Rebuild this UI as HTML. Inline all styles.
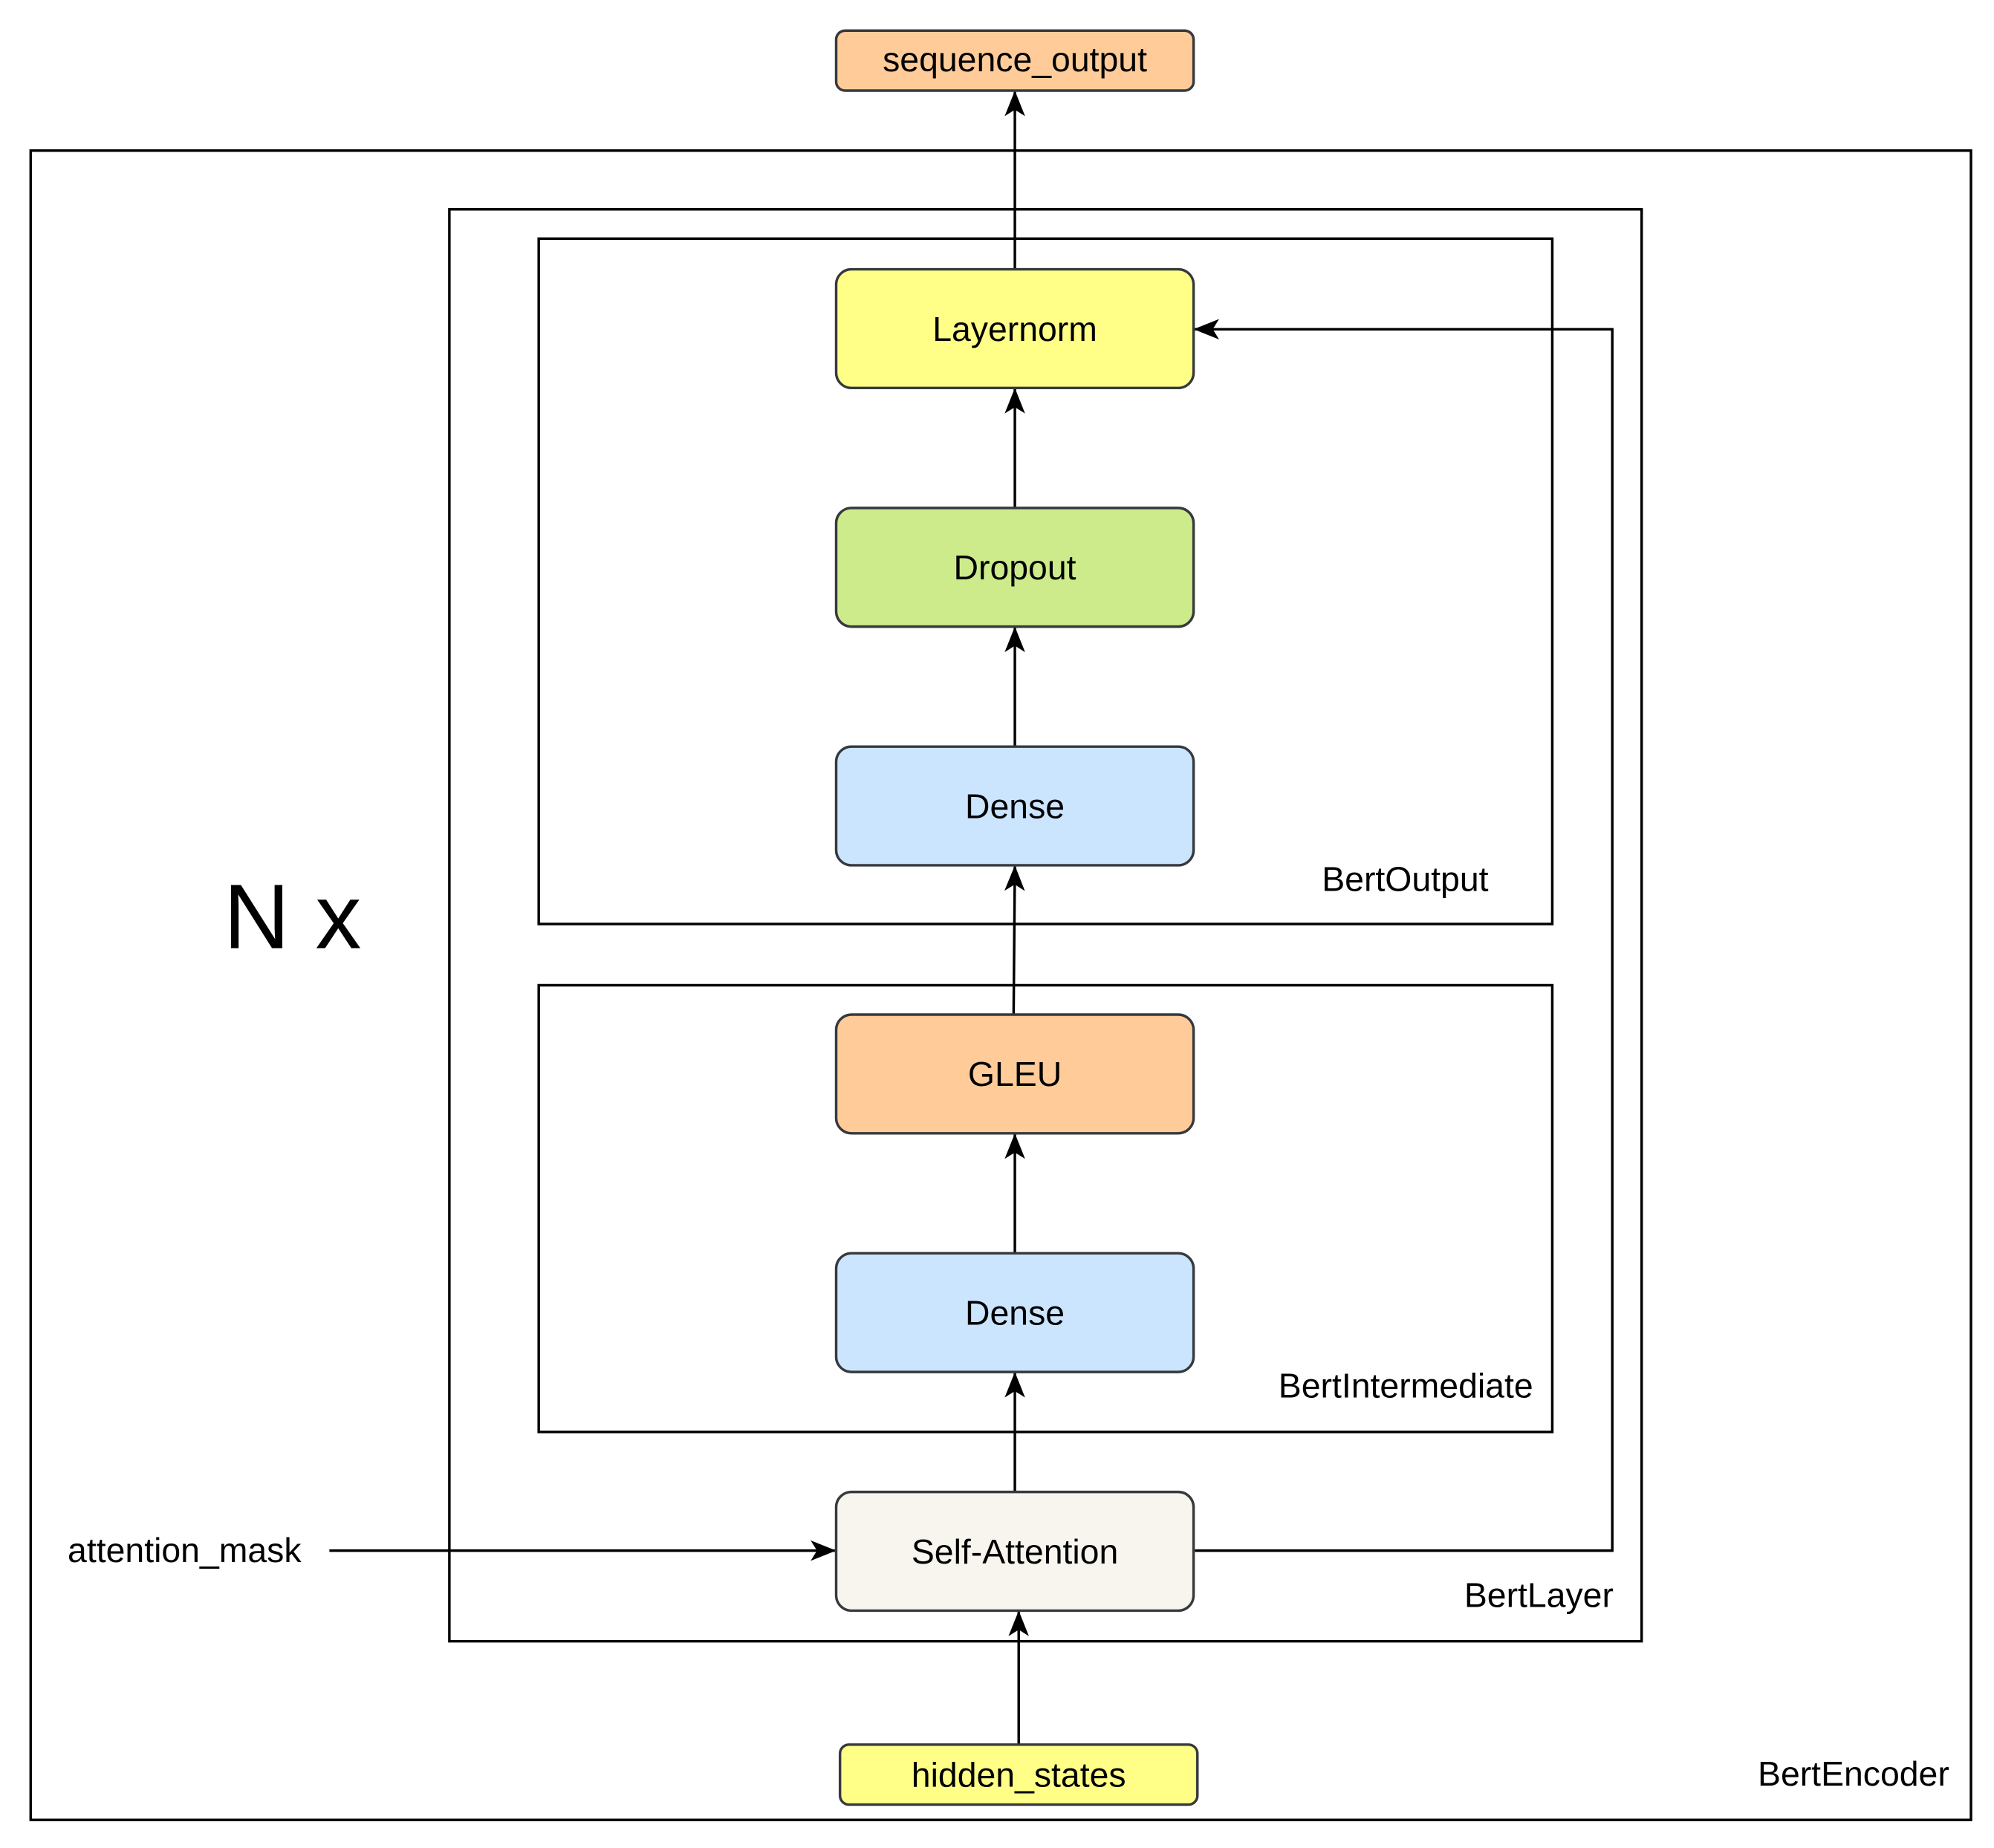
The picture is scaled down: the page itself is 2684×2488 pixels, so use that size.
<!DOCTYPE html>
<html><head><meta charset="utf-8"><style>html,body{margin:0;padding:0;background:#fff}svg{display:block}</style></head>
<body>
<svg width="2684" height="2488" viewBox="0 0 1562 1448" xmlns="http://www.w3.org/2000/svg" font-family="Liberation Sans, Arial, sans-serif">
<defs>
<marker id="a" viewBox="0 0 20 20" refX="19" refY="10" markerWidth="20" markerHeight="20" markerUnits="userSpaceOnUse" orient="auto">
<path d="M0,2 L20,10 L0,18 L5,10 Z" fill="#000"/>
</marker>
</defs>
<rect width="1562" height="1448" fill="#fff"/>
<g fill="none" stroke="#000" stroke-width="2">
<rect x="24" y="118" width="1520" height="1308"/>
<rect x="352" y="164" width="934" height="1122"/>
<rect x="422" y="187" width="794" height="537"/>
<rect x="422" y="772" width="794" height="350"/>
</g>
<g stroke="#000" stroke-width="2" fill="none">
<line x1="795" y1="211" x2="795" y2="72" marker-end="url(#a)"/>
<line x1="795" y1="398" x2="795" y2="305" marker-end="url(#a)"/>
<line x1="795" y1="585" x2="795" y2="492" marker-end="url(#a)"/>
<line x1="794" y1="795" x2="795" y2="679" marker-end="url(#a)"/>
<line x1="795" y1="982" x2="795" y2="889" marker-end="url(#a)"/>
<line x1="795" y1="1169" x2="795" y2="1076" marker-end="url(#a)"/>
<line x1="798" y1="1367" x2="798" y2="1263" marker-end="url(#a)"/>
<line x1="258" y1="1215" x2="654" y2="1215" marker-end="url(#a)"/>
<polyline points="936,1215 1263,1215 1263,258 936,258" marker-end="url(#a)"/>
</g>
<g stroke="#36393d" stroke-width="2">
<rect x="655" y="24" width="280" height="47" rx="7" fill="#ffcc99"/>
<rect x="655" y="211" width="280" height="93" rx="12" fill="#ffff88"/>
<rect x="655" y="398" width="280" height="93" rx="12" fill="#cdeb8b"/>
<rect x="655" y="585" width="280" height="93" rx="12" fill="#cce5ff"/>
<rect x="655" y="795" width="280" height="93" rx="12" fill="#ffcc99"/>
<rect x="655" y="982" width="280" height="93" rx="12" fill="#cce5ff"/>
<rect x="655" y="1169" width="280" height="93" rx="12" fill="#f7f5ed"/>
<rect x="658" y="1367" width="280" height="47" rx="7" fill="#ffff88"/>
</g>
<g font-size="27" fill="#000" text-anchor="middle">
<text x="795" y="56">sequence_output</text>
<text x="795" y="267">Layernorm</text>
<text x="795" y="454">Dropout</text>
<text x="795" y="641">Dense</text>
<text x="795" y="851">GLEU</text>
<text x="795" y="1038">Dense</text>
<text x="795" y="1225">Self-Attention</text>
<text x="798" y="1400">hidden_states</text>
</g>
<g font-size="27" fill="#000" text-anchor="end">
<text x="1166" y="698">BertOutput</text>
<text x="1201" y="1095">BertIntermediate</text>
<text x="1264" y="1259">BertLayer</text>
<text x="1527" y="1399">BertEncoder</text>
<text x="236" y="1224">attention_mask</text>
</g>
<text x="175" y="743" font-size="72" fill="#000">N x</text>
</svg>
</body></html>
